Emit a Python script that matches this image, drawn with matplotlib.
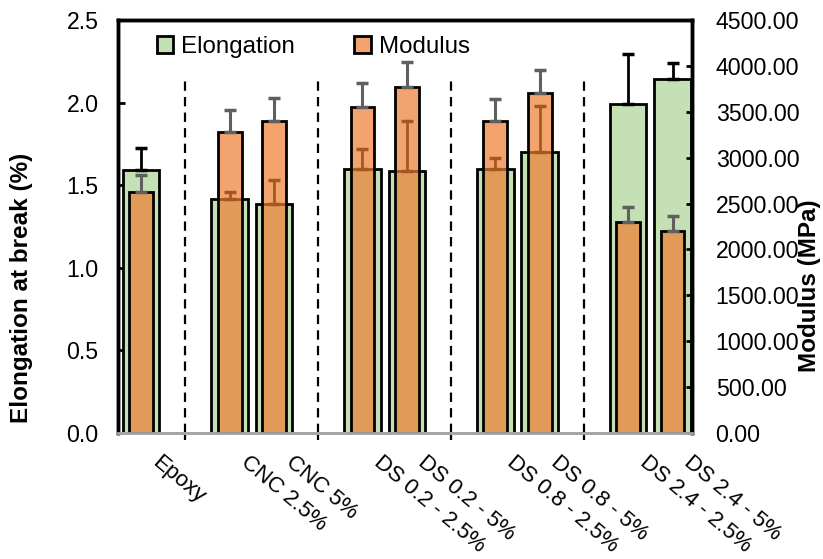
import numpy as np
import matplotlib.pyplot as plt
from matplotlib.patches import Patch
from matplotlib.transforms import ScaledTranslation
from matplotlib.ticker import FormatStrFormatter

plt.rcParams['font.family'] = ['Liberation Sans', 'DejaVu Sans']

samples = ['Epoxy', 'CNC 2.5%', 'CNC 5%', 'DS 0.2 - 2.5%', 'DS 0.2 - 5%',
           'DS 0.8 - 2.5%', 'DS 0.8 - 5%', 'DS 2.4 - 2.5%', 'DS 2.4 - 5%']
slots = [0, 2, 3, 5, 6, 8, 9, 11, 12]      # empty slots hold the dividers
dividers = [1, 4, 7, 10]

elongation = [1.59, 1.415, 1.385, 1.60, 1.585, 1.60, 1.70, 1.99, 2.14]
elongation_err = [0.133, 0.042, 0.146, 0.121, 0.302, 0.065, 0.28, 0.302, 0.097]
modulus = [2630, 3283, 3400, 3555, 3773, 3400, 3701, 2302, 2204]
modulus_err = [181, 236, 250, 255, 273, 239, 254, 164, 161]

green = '#C5E0B4'
orange = (237/255, 125/255, 49/255, 0.7)

fig = plt.figure(figsize=(8.23, 5.59), dpi=100)
ax = fig.add_axes([118/823, 1-433/559, 574/823, 413/559])
ax2 = ax.twinx()

ax.bar(slots, elongation, width=0.82, color=green, edgecolor='black', linewidth=2, zorder=2)
ax.errorbar(slots, elongation, yerr=[np.zeros(len(slots)), elongation_err], fmt='none',
            ecolor='black', elinewidth=2, capsize=4.5, capthick=2.5, zorder=3)
ax.vlines(dividers, 0, 2.16, colors='black', linewidth=1.6, linestyles=(0, (4.2, 2.8)), zorder=1)

ax2.bar(slots, modulus, width=0.54, facecolor=orange, edgecolor='black', linewidth=2, zorder=2)
ax2.errorbar(slots, modulus, yerr=[np.zeros(len(slots)), modulus_err], fmt='none',
             ecolor='#5f5f5f', elinewidth=2.2, capsize=4.5, capthick=2.5, zorder=3)

ax.set_xlim(-0.52, 12.44)
ax.set_ylim(0, 2.5)
ax.set_yticks(np.arange(0, 2.51, 0.5))
ax.yaxis.set_major_formatter(FormatStrFormatter('%.1f'))
ax2.set_ylim(0, 4500)
ax2.set_yticks(np.arange(0, 4501, 500))
ax2.yaxis.set_major_formatter(FormatStrFormatter('%.2f'))

# ticks sit on the dividers, sample names are placed under the bars
ax.set_xticks(dividers)
ax.set_xticklabels([])
off = ScaledTranslation(21/100, -19/100, fig.dpi_scale_trans)
for x, name in zip(slots, samples):
    ax.text(x, 0, name, transform=ax.get_xaxis_transform() + off, rotation=-40,
            ha='left', va='top', rotation_mode='anchor', fontsize=16)

ax.tick_params(axis='x', direction='out', length=5, width=1.6, color='black')
ax.tick_params(axis='y', direction='in', length=5, width=2, labelsize=16.7, pad=14)
ax2.tick_params(axis='y', direction='in', length=4, width=2, labelsize=16.7, pad=17)

for a in (ax, ax2):
    for s in a.spines.values():
        s.set_linewidth(2.5)
        s.set_color('black')
    a.spines['bottom'].set_color('#a6a6a6')
    a.spines['bottom'].set_linewidth(2)

ax.set_ylabel('Elongation at break (%)', fontsize=17.5, fontweight='bold')
ax.yaxis.set_label_coords(-0.148, 0.351)
ax2.set_ylabel('Modulus (MPa)', fontsize=17.5, fontweight='bold')
ax2.yaxis.set_label_coords(1.185, 0.357)

handles = [Patch(facecolor=green, edgecolor='black', linewidth=2, label='Elongation'),
           Patch(facecolor='#F2A46E', edgecolor='black', linewidth=2, label='Modulus')]
fig.legend(handles=handles, loc='upper left', bbox_to_anchor=(157/823, 1-36/559),
           ncol=2, frameon=False, fontsize=17.4, handlelength=0.68, handleheight=0.68,
           handletextpad=0.33, columnspacing=2.45, borderpad=0, borderaxespad=0)

fig.savefig('out.png', dpi=100)
